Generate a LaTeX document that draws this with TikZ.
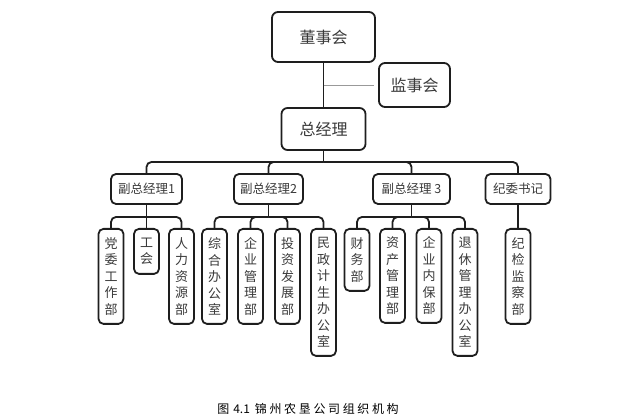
\documentclass[tikz,border=0pt]{standalone}
\usepackage{fontspec}
\newfontfamily\cjk{Noto Sans CJK SC}
\definecolor{linec}{HTML}{1E1E1E}
\definecolor{textc}{HTML}{3A3A3A}
\begin{document}
\begin{tikzpicture}[x=1pt,y=-1pt,
  box/.style={draw=linec, line width=1.8pt, rounded corners=6pt, fill=white, text=textc, inner sep=0pt, font=\cjk\fontsize{16}{18}\selectfont},
  mbox/.style={box, rounded corners=5pt, font=\cjk\fontsize{12.5}{14}\selectfont, minimum height=30pt},
  vbox/.style={box, rounded corners=5pt, anchor=north, minimum width=25pt, align=center, font=\cjk\fontsize{13}{16.5}\selectfont},
  conn/.style={draw=linec, line width=1.8pt, rounded corners=5pt},
  thinconn/.style={draw=gray!80, line width=0.9pt}]
\useasboundingbox (0,0) rectangle (640,419);

\node[box, minimum width=103pt, minimum height=50pt] (ds) at (323.5,37) {董事会};
\node[box, minimum width=71pt, minimum height=44pt] (js) at (414.5,85) {监事会};
\node[box, minimum width=84pt, minimum height=42pt] (gm) at (323.5,129) {总经理};

\node[mbox, minimum width=71pt] (p1) at (146.5,189) {副总经理1};
\node[mbox, minimum width=69pt] (p2) at (268.5,189) {副总经理2};
\node[mbox, minimum width=77pt] (p3) at (411.5,189) {副总经理 3};
\node[mbox, minimum width=65pt] (p4) at (518,189) {纪委书记};

\node[vbox, minimum height=95pt] (c11) at (111,228) {党\\委\\工\\作\\部};
\node[vbox, minimum height=45pt] (c12) at (146.5,228) {工\\会};
\node[vbox, minimum height=95pt] (c13) at (181.5,228) {人\\力\\资\\源\\部};
\node[vbox, minimum height=95pt] (c21) at (214.5,228) {综\\合\\办\\公\\室};
\node[vbox, minimum height=95pt] (c22) at (250.5,228) {企\\业\\管\\理\\部};
\node[vbox, minimum height=95pt] (c23) at (287.5,228) {投\\资\\发\\展\\部};
\node[vbox, minimum height=127pt] (c24) at (323.5,228) {民\\政\\计\\生\\办\\公\\室};
\node[vbox, minimum height=62pt] (c31) at (357,228) {财\\务\\部};
\node[vbox, minimum height=94pt] (c32) at (392.5,228) {资\\产\\管\\理\\部};
\node[vbox, minimum height=94pt] (c33) at (429,228) {企\\业\\内\\保\\部};
\node[vbox, minimum height=127pt] (c34) at (465,228) {退\\休\\管\\理\\办\\公\\室};
\node[vbox, minimum height=95pt] (c41) at (518,228) {纪\\检\\监\\察\\部};

% top connectors
\draw[conn] (ds.south) -- (gm.north);
\draw[thinconn] (ds.south |- js.west) -- ([xshift=-4pt]js.west);
\coordinate (mb) at (323.5,162);
\draw[conn] (gm.south) -- (mb);
\foreach \p in {p1,p2,p3,p4} \draw[conn] (mb) -| (\p.north);

% group buses
\foreach \p/\kids in {p1/{c11,c13}, p2/{c21,c22,c23,c24}, p3/{c31,c32,c33,c34}} {
  \coordinate (b\p) at (\p.south |- 0,217);
  \draw[conn] (\p.south) -- (b\p);
  \foreach \c in \kids \draw[conn] (b\p) -| (\c.north);
}
\draw[conn] (p1.south) -- (c12.north);
\draw[conn] (p4.south) -- (c41.north);

\node[font=\cjk\fontsize{12}{14}\selectfont, text=black] (cap) at (308,409) {图\hspace{4pt}4.1\hspace{5pt}{\addfontfeature{LetterSpace=22}锦州农垦公司组织机构}};
\end{tikzpicture}
\end{document}
